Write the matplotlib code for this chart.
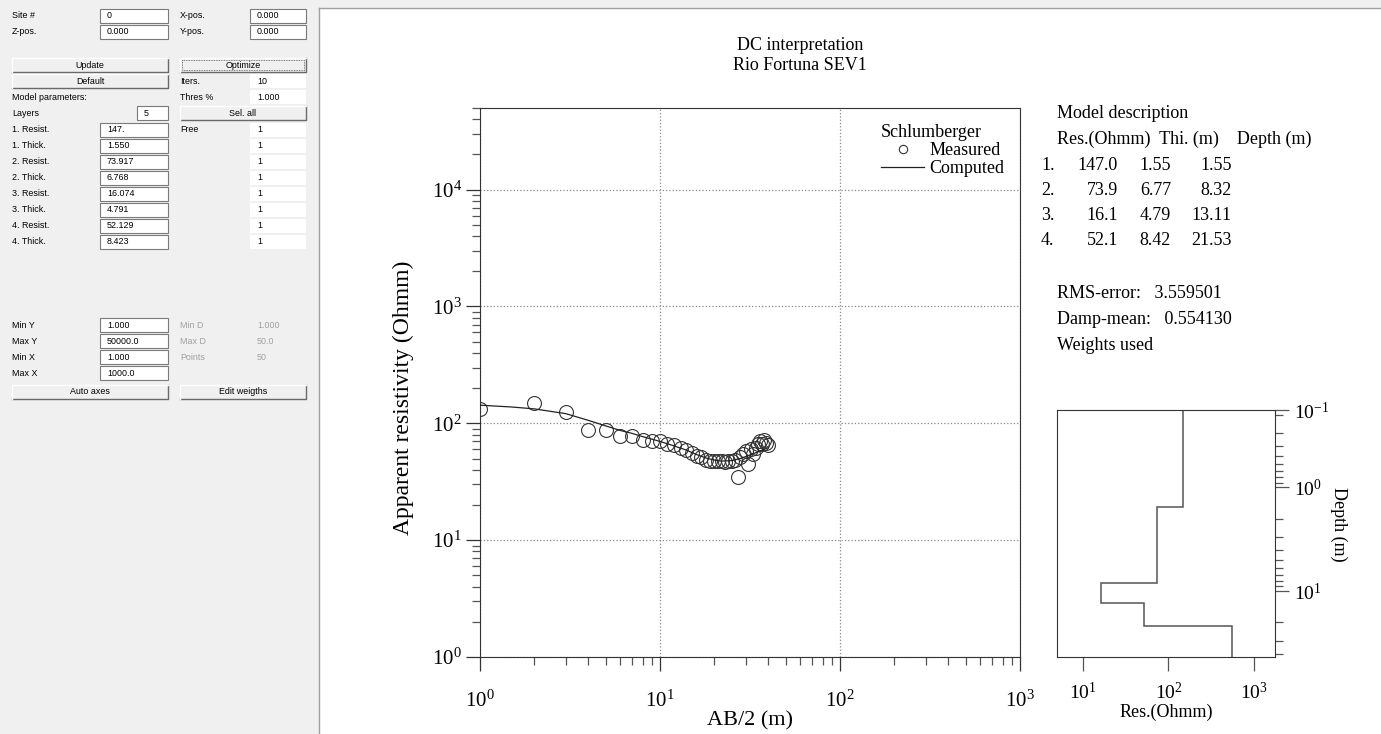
import numpy as np
import matplotlib
matplotlib.use("Agg")
import matplotlib.pyplot as plt
from matplotlib.patches import Rectangle
from matplotlib.lines import Line2D
from matplotlib.ticker import LogLocator, NullFormatter, NullLocator

W, H = 1381, 734

# measured sounding (AB/2 in m, apparent resistivity in Ohmm)
ab2_meas = [1, 2, 3, 4, 5, 6, 7, 8, 9, 10, 11, 12, 13, 14, 15, 16, 17, 18, 19, 20,
            21, 22, 23, 24, 25, 26, 27, 28, 29, 30, 31, 32, 33, 34, 35, 36, 37, 38, 39, 40]
rho_meas = [132, 149, 124, 88, 88, 78, 78, 72, 71, 70, 67, 65, 62, 59, 56, 53, 51, 49, 48, 48,
            47.5, 48, 47, 47.5, 48, 49, 35, 51, 55, 58, 45, 60, 55, 62, 67, 70, 66, 72, 68, 65]

# computed curve of the fitted model
ab2_calc = [1, 1.5, 2, 3, 4, 5, 6, 7, 8, 10, 12, 14, 16, 18, 20, 22, 25, 28, 30, 33, 36, 40]
rho_calc = [143, 138, 133, 121, 106, 95, 87, 82, 77, 70, 64, 59, 54, 50.5, 48.5, 47.5, 48, 50,
            52, 55, 58, 62]

# layered model
layer_res = [147.0, 73.9, 16.1, 52.1]
layer_thk = [1.55, 6.77, 4.79, 8.42]
layer_dep = [1.55, 8.32, 13.11, 21.53]
basement_res = 550.0
depth_top = 0.18
rms_error = 3.559501
damp_mean = 0.554130

# left form panel
form_params = [("1. Resist.", "147."), ("1. Thick.", "1.550"), ("2. Resist.", "73.917"),
               ("2. Thick.", "6.768"), ("3. Resist.", "16.074"), ("3. Thick.", "4.791"),
               ("4. Resist.", "52.129"), ("4. Thick.", "8.423")]
form_axes = [("Min Y", "1.000"), ("Max Y", "50000.0"), ("Min X", "1.000"), ("Max X", "1000.0")]
form_grey = [("Min D", "1.000"), ("Max D", "50.0"), ("Points", "50")]

plt.rcParams['font.family'] = ['Liberation Serif', 'DejaVu Serif']
UI = ['Liberation Sans', 'DejaVu Sans']
INK = '#222222'


def rect(x0, y0, x1, y1):
    return [x0 / W, 1 - y1 / H, (x1 - x0) / W, (y1 - y0) / H]


def fx(x):
    return x / W


def fy(y):
    return 1 - y / H


fig = plt.figure(figsize=(W / 100, H / 100), dpi=100)
fig.patch.set_facecolor('white')

# background with pixel coordinates
bg = fig.add_axes([0, 0, 1, 1])
bg.set_xlim(0, W)
bg.set_ylim(H, 0)
bg.axis('off')
bg.add_patch(Rectangle((0, 0), 319, H, facecolor='#f0f0f0', edgecolor='none'))
bg.add_patch(Rectangle((319, 0), W - 319, 8, facecolor='#f0f0f0', edgecolor='none'))
bg.plot([319, 319], [8, H], color='#a0a0a0', lw=1)
bg.plot([319, W], [8, 8], color='#a0a0a0', lw=1)


def label(x, y, s, color='black'):
    bg.text(x, y, s, fontsize=6.4, family=UI, color=color, ha='left', va='center')


def field(x0, x1, y, s, border=True):
    bg.add_patch(Rectangle((x0, y - 7), x1 - x0, 14, facecolor='white',
                           edgecolor='#7a7a7a' if border else 'none', lw=0.8))
    bg.text(x0 + 7, y, s, fontsize=6.4, family=UI, ha='left', va='center')


def button(x0, x1, y, s, focus=False):
    bg.add_patch(Rectangle((x0, y - 7), x1 - x0, 14, facecolor='#f0f0f0', edgecolor='none'))
    bg.plot([x0, x1, x1], [y + 7, y + 7, y - 7], color='#696969', lw=1)
    bg.plot([x0, x0, x1], [y + 7, y - 7, y - 7], color='white', lw=1)
    if focus:
        bg.add_patch(Rectangle((x0 + 2, y - 5), x1 - x0 - 4, 10, facecolor='none',
                               edgecolor='#555555', lw=0.6, ls=(0, (1, 1))))
    bg.text((x0 + x1) / 2, y, s, fontsize=6.4, family=UI, ha='center', va='center')


label(12, 16, "Site #")
field(100, 168, 16, "0")
label(180, 16, "X-pos.")
field(250, 306, 16, "0.000")
label(12, 32, "Z-pos.")
field(100, 168, 32, "0.000")
label(180, 32, "Y-pos.")
field(250, 306, 32, "0.000")
button(12, 168, 65, "Update")
button(180, 306, 65, "Optimize", focus=True)
button(12, 168, 81, "Default")
label(180, 81, "Iters.")
field(250, 306, 81, "10", border=False)
label(12, 97, "Model parameters:")
label(180, 97, "Thres %")
field(250, 306, 97, "1.000", border=False)
label(12, 113, "Layers")
field(137, 168, 113, "5")
button(180, 306, 113, "Sel. all")
for i, (name, val) in enumerate(form_params):
    y = 130 + 16 * i
    label(12, y, name)
    field(100, 168, y, val)
    field(250, 306, y, "1", border=False)
label(180, 130, "Free")
for i, (name, val) in enumerate(form_axes):
    y = 325 + 16 * i
    label(12, y, name)
    field(100, 168, y, val)
for i, (name, val) in enumerate(form_grey):
    y = 325 + 16 * i
    label(180, y, name, color='#a0a0a0')
    bg.text(257, y, val, fontsize=6.4, family=UI, color='#a0a0a0', ha='left', va='center')
button(12, 168, 392, "Auto axes")
button(180, 306, 392, "Edit weigths")

# main sounding plot
ax = fig.add_axes(rect(480, 108, 1020, 657))
ax.set_xscale('log')
ax.set_yscale('log')
ax.set_xlim(1, 1000)
ax.set_ylim(1, 50000)
ax.grid(True, which='major', ls=':', color='#888888', lw=0.9)
ax.plot(ab2_meas, rho_meas, 'o', ms=10, mfc='none', mec='#333333', mew=0.8, zorder=3)
ax.plot(ab2_calc, rho_calc, '-', color=INK, lw=0.9, zorder=4)
ax.tick_params(which='major', direction='out', length=10, width=0.9, color='#333333',
               labelsize=15, pad=3)
ax.tick_params(axis='x', which='major', pad=14)
ax.tick_params(which='minor', direction='out', length=6, width=0.9, color='#555555')
ax.xaxis.set_minor_locator(LogLocator(base=10, subs=np.arange(2, 10)))
ax.yaxis.set_minor_locator(LogLocator(base=10, subs=np.arange(2, 10)))
ax.xaxis.set_minor_formatter(NullFormatter())
ax.yaxis.set_minor_formatter(NullFormatter())
for s in ax.spines.values():
    s.set_color('#333333')
fig.text(fx(750), fy(721), "AB/2 (m)", fontsize=16, ha='center', va='center')
fig.text(fx(403), fy(398), "Apparent resistivity (Ohmm)", fontsize=17, ha='center',
         va='center', rotation=90)
fig.text(fx(800), fy(45), "DC interpretation", fontsize=13, ha='center', va='center')
fig.text(fx(800), fy(65), "Rio Fortuna SEV1", fontsize=13, ha='center', va='center')

h_meas = Line2D([], [], ls='none', marker='o', ms=6, mfc='none', mec='#333333', mew=0.8)
h_calc = Line2D([], [], color=INK, lw=0.9)
leg = ax.legend([h_meas, h_calc], ["Measured", "Computed"], title="Schlumberger",
                loc='upper right', bbox_to_anchor=(0.995, 0.993), frameon=False, fontsize=13,
                title_fontsize=13, handlelength=2.4, handletextpad=0.3, labelspacing=0.05,
                borderaxespad=0.3, alignment='left')

# model description text
tx = dict(fontsize=13, va='center')
fig.text(fx(1057), fy(114), "Model description", ha='left', **tx)
fig.text(fx(1057), fy(139), "Res.(Ohmm)  Thi. (m)    Depth (m)", ha='left', **tx)
for i in range(len(layer_res)):
    y = fy(165 + 25.3 * i)
    fig.text(fx(1041), y, f"{i + 1}.", ha='left', **tx)
    fig.text(fx(1118), y, f"{layer_res[i]:.1f}", ha='right', **tx)
    fig.text(fx(1171), y, f"{layer_thk[i]:.2f}", ha='right', **tx)
    fig.text(fx(1232), y, f"{layer_dep[i]:.2f}", ha='right', **tx)
fig.text(fx(1057), fy(294), f"RMS-error:   {rms_error:.6f}", ha='left', **tx)
fig.text(fx(1057), fy(320), f"Damp-mean:   {damp_mean:.6f}", ha='left', **tx)
fig.text(fx(1057), fy(346), "Weights used", ha='left', **tx)

# resistivity-depth model plot
ax2 = fig.add_axes(rect(1057, 410, 1275, 657))
edges = [depth_top] + layer_dep + [2 * layer_dep[-1]]
ax2.stairs(layer_res + [basement_res], edges, orientation='horizontal', baseline=None,
           color='#555555', lw=1.1)
ax2.set_xscale('log')
ax2.set_yscale('log')
ax2.set_xlim(5, 1750)
ax2.set_ylim(edges[-1], edges[0])
ax2.yaxis.tick_right()
ax2.yaxis.set_label_position('right')
ax2.set_yticks([edges[0], 1, 10], labels=[r"$\mathdefault{10^{-1}}$", r"$\mathdefault{10^{0}}$",
                                            r"$\mathdefault{10^{1}}$"])
ax2.yaxis.set_minor_locator(LogLocator(base=10, subs=np.arange(2, 10)))
ax2.yaxis.set_minor_formatter(NullFormatter())
ax2.xaxis.set_minor_locator(NullLocator())
ax2.tick_params(which='major', direction='out', length=10, width=0.9, color='#555555',
                labelsize=14)
ax2.tick_params(which='minor', direction='out', length=6, width=0.9, color='#555555')
ax2.tick_params(axis='x', pad=8)
for s in ax2.spines.values():
    s.set_color('#333333')
fig.text(fx(1166), fy(712), "Res.(Ohmm)", fontsize=13, ha='center', va='center')
fig.text(fx(1339), fy(524), "Depth (m)", fontsize=13, ha='center', va='center', rotation=270)

fig.savefig("out.png", dpi=100)
